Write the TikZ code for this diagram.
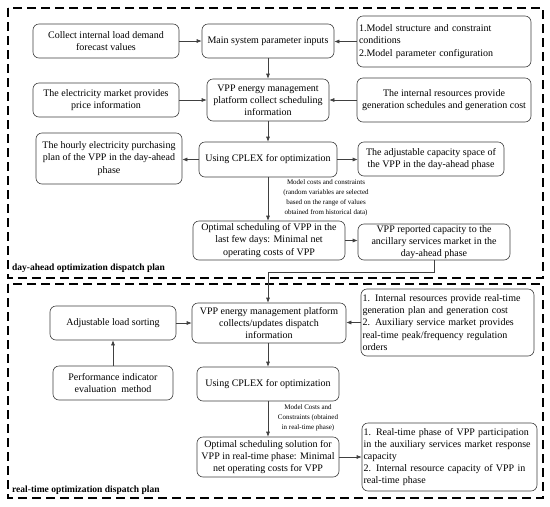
\documentclass[tikz,border=0pt]{standalone}
\usepackage{fontspec}
\setmainfont{Liberation Serif}
\usetikzlibrary{arrows.meta,calc}
\definecolor{ln}{HTML}{404040}
\begin{document}
\begin{tikzpicture}[x=1pt,y=-1pt,
  box/.style={draw=ln, line width=0.6pt, rounded corners=6pt, align=center, inner sep=1pt,
    font=\fontsize{10}{12.2}\selectfont, text=black},
  lbox/.style={box, align=left},
  arr/.style={draw=ln, line width=0.6pt, -{Latex[length=5pt,width=4pt]}},
  elabel/.style={font=\fontsize{7}{10}\selectfont, align=center, inner sep=0pt},
  frame/.style={draw=black, line width=1.3pt, dash pattern=on 9pt off 5pt},
  plan/.style={font=\bfseries\fontsize{9.5}{11}\selectfont, anchor=west, inner sep=0pt}]
\useasboundingbox (0,0) rectangle (550,507);
\fill[white] (0,0) rectangle (550,507);
% frames
\draw[frame] (8,8) rectangle (543,278);
\draw[frame] (8,284) rectangle (543,498);
\node[plan] (p1) at (12,268) {day-ahead optimization dispatch plan};
\node[plan] (p2) at (12,490) {real-time optimization dispatch plan};
% day-ahead boxes
\node[box, minimum width=146pt, minimum height=34pt] (A) at (106,41) {Collect internal load demand\\forecast values};
\node[box, minimum width=132pt, minimum height=34pt] (B) at (268,41) {Main system parameter inputs};
\node[lbox, minimum width=174pt, minimum height=51pt, text width=170pt] (C) at (444,41.5) {1.Model structure and constraint\\conditions\\2.Model parameter configuration};
\node[box, minimum width=146pt, minimum height=34pt] (D) at (106,100) {The electricity market provides\\price information};
\node[box, minimum width=122pt, minimum height=42pt] (E) at (268,100) {VPP energy management\\platform collect scheduling\\information};
\node[box, minimum width=174pt, minimum height=44pt] (F) at (444,100) {The internal resources provide\\generation schedules and generation cost};
\node[box, minimum width=146pt, minimum height=51pt] (G) at (109,158.5) {The hourly electricity purchasing\\plan of the VPP in the day-ahead\\phase};
\node[box, minimum width=138pt, minimum height=35pt] (H) at (268,159.5) {Using CPLEX for optimization};
\node[box, minimum width=146pt, minimum height=34pt] (I) at (431,159) {The adjustable capacity space of\\the VPP in the day-ahead phase};
\node[box, minimum width=152pt, minimum height=39pt] (J) at (269,240.5) {Optimal scheduling of VPP in the\\last few days: Minimal net\\operating costs of VPP};
\node[box, minimum width=152pt, minimum height=36pt] (K) at (434,242) {VPP reported capacity to the\\ancillary services market in the\\day-ahead phase};
\node[elabel] (l1) at (326,198) {Model costs and constraints\\(random variables are selected\\based on the range of values\\obtained from historical data)};
% real-time boxes
\node[box, minimum width=154pt, minimum height=40pt] (L) at (269,323) {VPP energy management platform\\collects/updates dispatch\\information};
\node[lbox, minimum width=173pt, minimum height=67pt, text width=170pt] (M) at (447.5,322.5) {1. Internal resources provide real-time\\generation plan and generation cost\\2. Auxiliary service market provides\\real-time peak/frequency regulation\\orders};
\node[box, minimum width=126pt, minimum height=34pt] (N) at (113,323) {Adjustable load sorting};
\node[box, minimum width=120pt, minimum height=34pt] (O) at (113,383) {Performance indicator\\evaluation\ \ method};
\node[box, minimum width=142pt, minimum height=34pt] (P) at (268,384) {Using CPLEX for optimization};
\node[box, minimum width=142pt, minimum height=40pt] (Q) at (268,457) {Optimal scheduling solution for\\VPP in real-time phase: Minimal\\net operating costs for VPP};
\node[lbox, minimum width=175pt, minimum height=68pt, text width=172pt] (R) at (449.5,457) {1. Real-time phase of VPP participation\\in the auxiliary services market response\\capacity\\2. Internal resource capacity of VPP in\\real-time phase};
\node[elabel] (l2) at (308,418) {Model Costs and\\Constraints (obtained\\in real-time phase)};
% connectors
\draw[arr] (A) -- (B);
\draw[arr] (C.west) -- (C.west -| B.east);
\draw[arr] (B) -- (E);
\draw[arr] (D) -- (E);
\draw[arr] (F) -- (E);
\draw[arr] (E) -- (H);
\draw[arr] (H.west) -- (H.west -| G.east);
\draw[arr] (H.east) -- (H.east -| I.west);
\draw[arr] (H.south) -- (H.south |- J.north);
\draw[arr] (J.east) -- (J.east -| K.west);
\draw[arr] (K.south) -- ++(0,12) -| (H.south |- L.north);
\draw[arr] (N.east) -- (N.east -| L.west);
\draw[arr] (M.west) -- (M.west -| L.east);
\draw[arr] (O) -- (N);
\draw[arr] (L.south -| P.north) -- (P.north);
\draw[arr] (P) -- (Q);
\draw[arr] (Q) -- (Q -| R.west);
\end{tikzpicture}
\end{document}
